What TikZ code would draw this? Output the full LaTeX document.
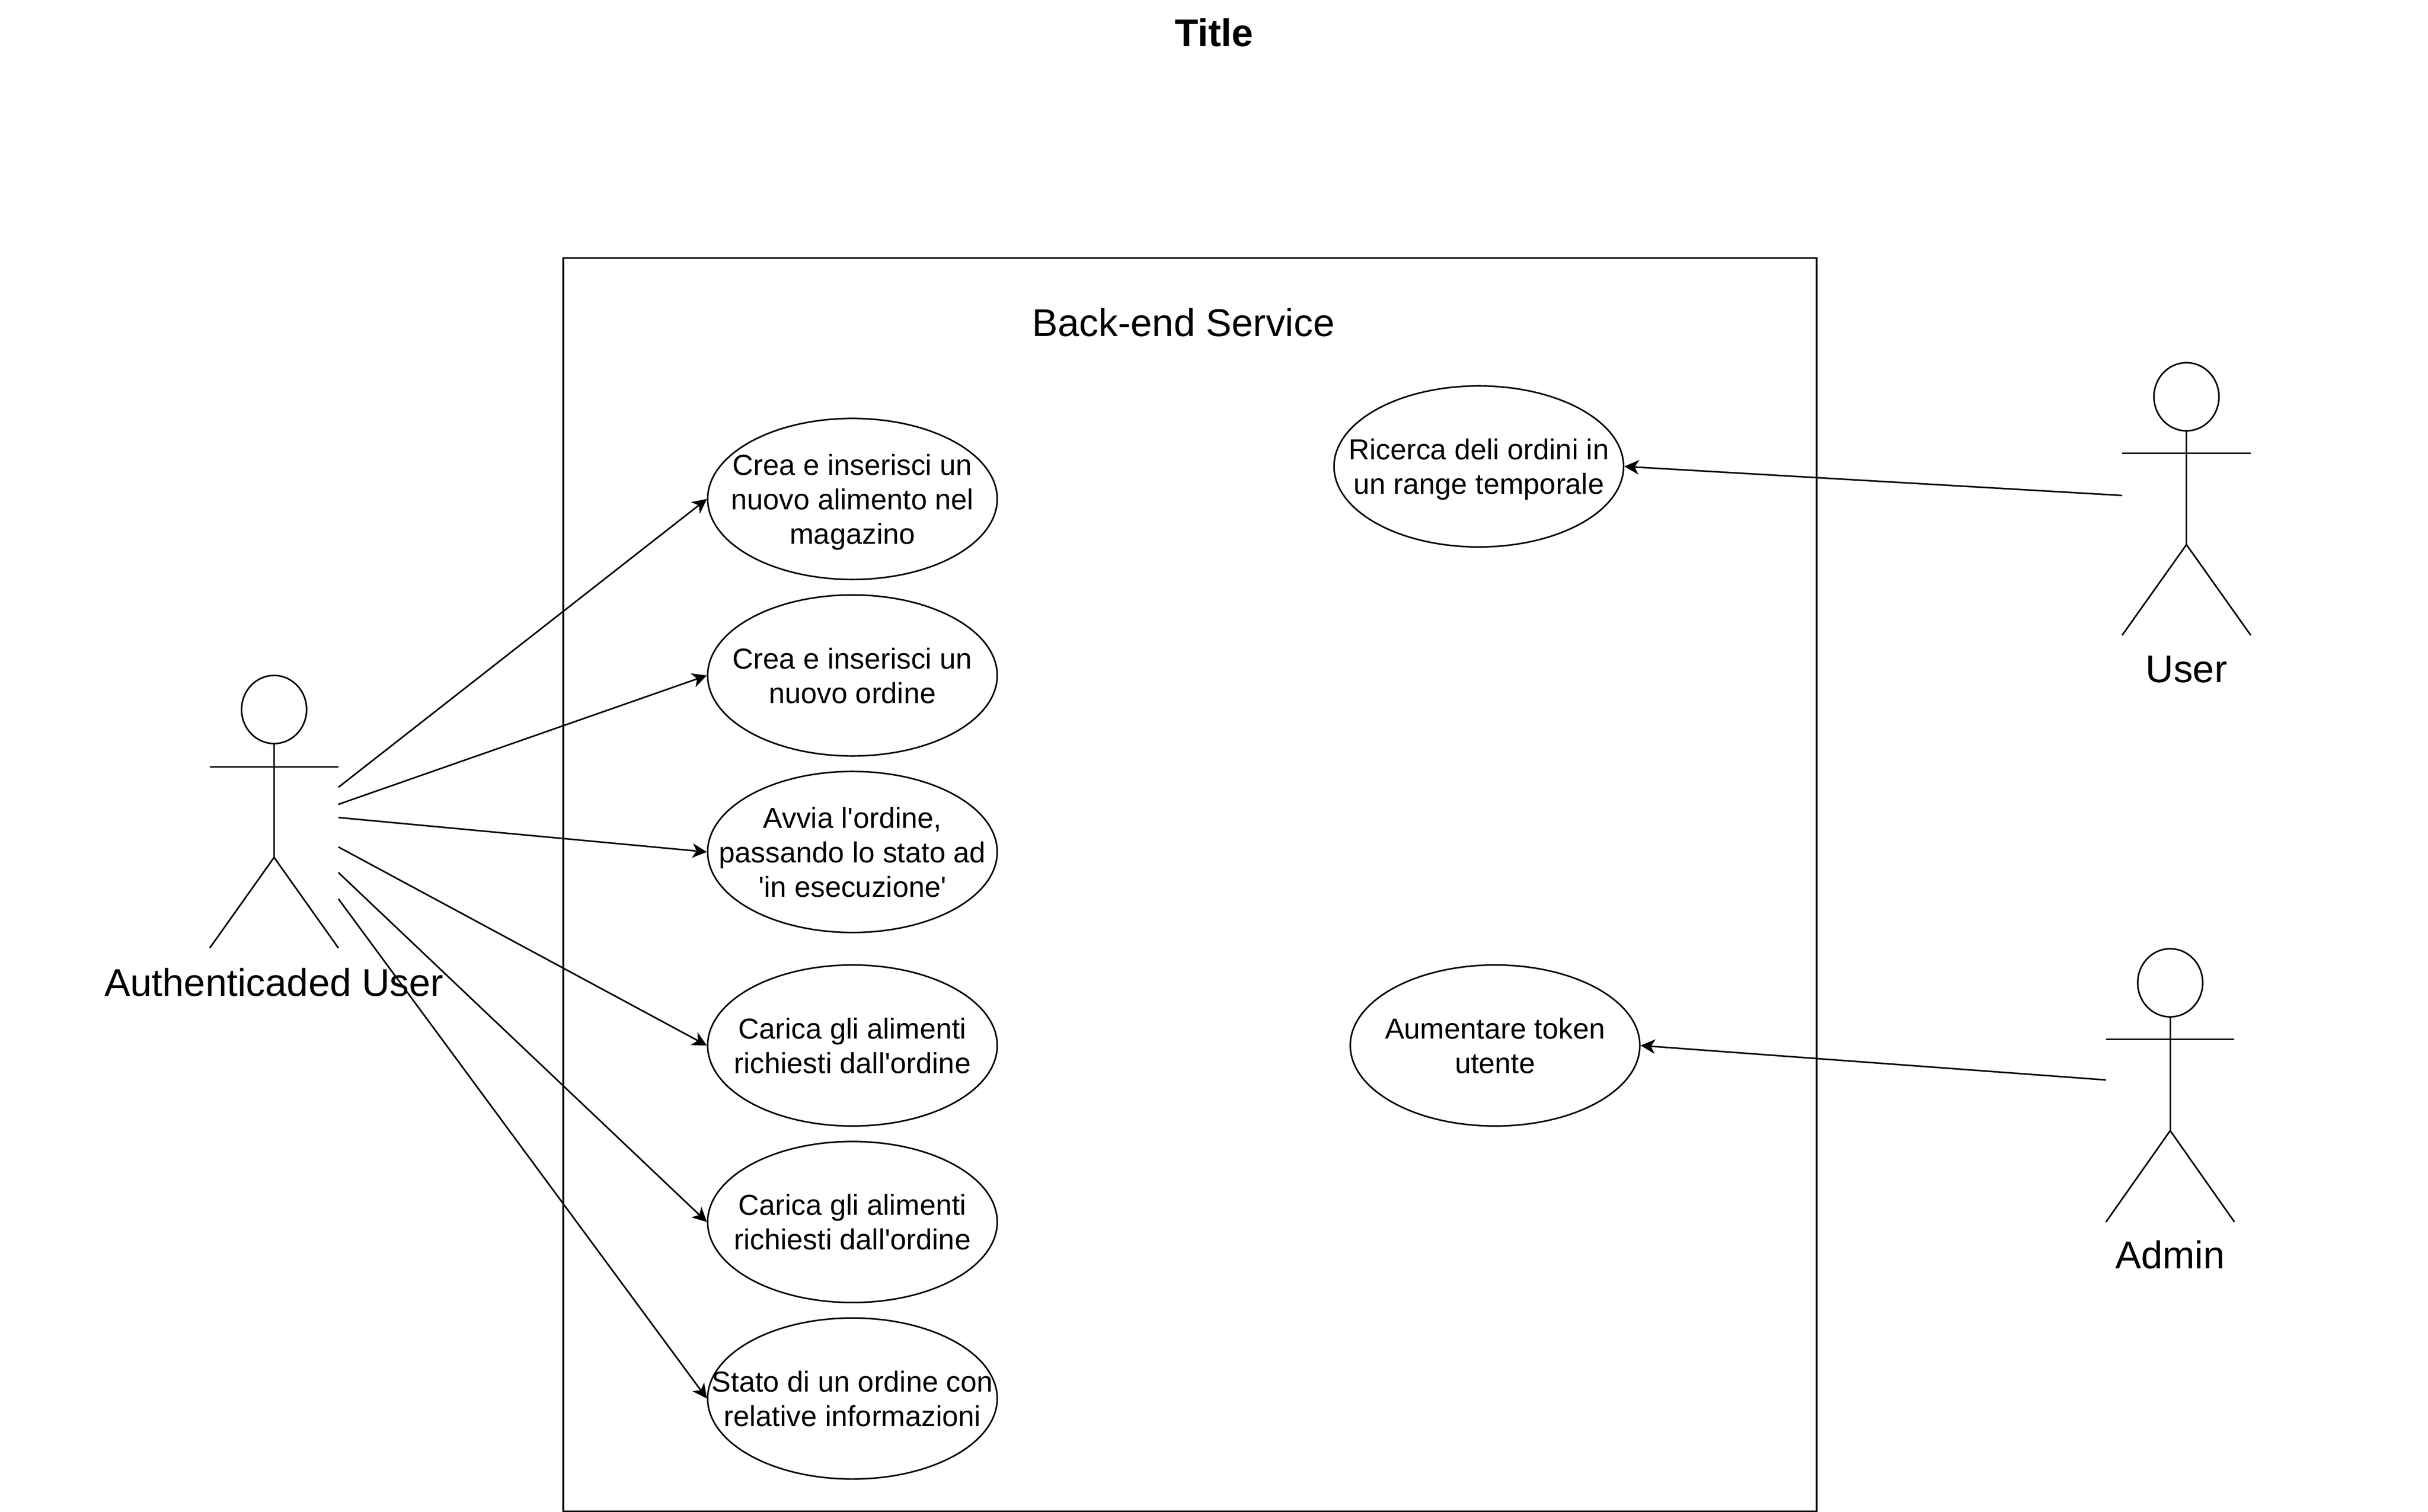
\documentclass[tikz,border=0pt]{standalone}
\usepackage{fontspec}
\setmainfont{Liberation Sans}
\usetikzlibrary{arrows.meta}
\usetikzlibrary{shapes.geometric}

\tikzset{
  usecase/.style={ellipse, draw, minimum width=140.25pt, minimum height=78pt, inner xsep=-30pt, inner ysep=-10pt, align=center, text depth=0pt, font=\fontsize{14}{16.7}\selectfont},
  head/.style={ellipse, draw, inner sep=0pt, minimum width=31.5pt, minimum height=33pt},
  biglabel/.style={inner sep=0pt, align=center, font=\fontsize{18.7}{22.4}\selectfont},
  conn/.style={-{Stealth[length=7pt, width=7pt, inset=2pt]}},
}

\begin{document}
\begin{tikzpicture}[x=0.75pt, y=-0.75pt, line width=0.75pt]
    \useasboundingbox (0,0) rectangle (1568,976.5);

    \node[inner sep=0pt, font=\fontsize{18.7}{22.4}\selectfont\bfseries] (title) at (784,21) {Title};
    \node[draw, inner sep=0pt, minimum width=607.05pt, minimum height=607.05pt] (service) at (768.45,571.25) {};
    \node[biglabel] (servicelabel) at (764.25,208.25) {Back-end Service};

    \node[usecase] (case1) at (550.5,322.25) {Crea e inserisci un\\nuovo alimento nel\\magazino};
    \node[usecase] (case2) at (550.5,436.25) {Crea e inserisci un\\nuovo ordine};
    \node[usecase] (case3) at (550.5,550.25) {Avvia l\textquotesingle ordine,\\passando lo stato ad\\\textquotesingle in esecuzione\textquotesingle};
    \node[usecase] (case4) at (550.5,675.25) {Carica gli alimenti\\richiesti dall\textquotesingle ordine};
    \node[usecase] (case5) at (550.5,789.25) {Carica gli alimenti\\richiesti dall\textquotesingle ordine};
    \node[usecase] (case6) at (550.5,903.25) {Stato di un ordine con\\relative informazioni};
    \node[usecase] (case7) at (955,301.25) {Ricerca deli ordini in\\un range temporale};
    \node[usecase] (case8) at (965.5,675.25) {Aumentare token\\utente};

    % authenticated user
    \node[head] (authhead) at (177,458.25) {};
    \draw (authhead.south) -- (177,553.75);
    \draw (135.5,495.25) -- (218.5,495.25);
    \draw (135.5,612.25) -- (177,553.75) -- (218.5,612.25);
    \node[biglabel] (authlabel) at (177,634.5) {Authenticaded User};

    % user
    \node[head] (userhead) at (1412,256.25) {};
    \draw (userhead.south) -- (1412,351.75);
    \draw (1370.5,292.75) -- (1453.5,292.75);
    \draw (1370.5,410.25) -- (1412,351.75) -- (1453.5,410.25);
    \node[biglabel] (userlabel) at (1412,432.25) {User};

    % admin
    \node[head] (adminhead) at (1401.5,634.75) {};
    \draw (adminhead.south) -- (1401.5,730.25);
    \draw (1360,671.25) -- (1443,671.25);
    \draw (1360,789.25) -- (1401.5,730.25) -- (1443,789.25);
    \node[biglabel] (adminlabel) at (1401.5,810.5) {Admin};

    \coordinate (auth1) at (218.5,508.5);
    \coordinate (auth2) at (218.5,519.5);
    \coordinate (auth3) at (218.5,528);
    \coordinate (auth4) at (218.5,547);
    \coordinate (auth5) at (218.5,563.5);
    \coordinate (auth6) at (218.5,580.5);
    \coordinate (user1) at (1370.5,320);
    \coordinate (admin1) at (1360,697.5);

    \draw[conn] (auth1) -- (case1.west);
    \draw[conn] (auth2) -- (case2.west);
    \draw[conn] (auth3) -- (case3.west);
    \draw[conn] (auth4) -- (case4.west);
    \draw[conn] (auth5) -- (case5.west);
    \draw[conn] (auth6) -- (case6.west);
    \draw[conn] (user1) -- (case7.east);
    \draw[conn] (admin1) -- (case8.east);
\end{tikzpicture}
\end{document}
